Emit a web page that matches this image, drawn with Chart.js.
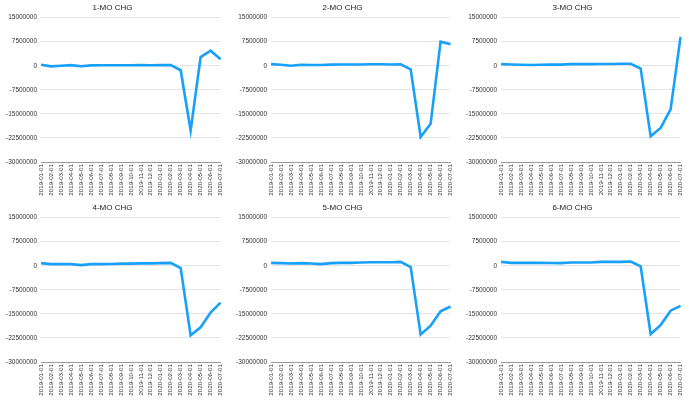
<!DOCTYPE html>
<html>
<head>
<meta charset="utf-8">
<script src="https://cdn.jsdelivr.net/npm/chart.js@4.4.0/dist/chart.umd.min.js"></script>
<style>
  body { margin: 0; background: #fff; width: 690px; height: 400px; position: relative; }
  .cell { position: absolute; width: 230px; height: 200px; }
</style>
</head>
<body>
<div class="cell" style="left:0;top:0"><canvas id="c1"></canvas></div>
<div class="cell" style="left:230px;top:0"><canvas id="c2"></canvas></div>
<div class="cell" style="left:460px;top:0"><canvas id="c3"></canvas></div>
<div class="cell" style="left:0;top:200px"><canvas id="c4"></canvas></div>
<div class="cell" style="left:230px;top:200px"><canvas id="c5"></canvas></div>
<div class="cell" style="left:460px;top:200px"><canvas id="c6"></canvas></div>
<script>
var months = ['2019-01-01', '2019-02-01', '2019-03-01', '2019-04-01', '2019-05-01', '2019-06-01',
    '2019-07-01', '2019-08-01', '2019-09-01', '2019-10-01', '2019-11-01', '2019-12-01',
    '2020-01-01', '2020-02-01', '2020-03-01', '2020-04-01', '2020-05-01', '2020-06-01', '2020-07-01'];

var titles = ['1-MO CHG', '2-MO CHG', '3-MO CHG', '4-MO CHG', '5-MO CHG', '6-MO CHG'];

var chg1 = [300000, -200000, 0, 200000, -150000, 100000, 150000, 150000, 150000, 150000, 200000, 150000,
    200000, 200000, -1400000, -20200000, 2700000, 4700000, 2000000];
var chg2 = [500000, 300000, 0, 300000, 250000, 250000, 350000, 400000, 400000, 400000, 450000, 450000,
    400000, 450000, -1100000, -22200000, -18100000, 7500000, 6700000];
var chg3 = [500000, 400000, 300000, 250000, 300000, 350000, 350000, 500000, 500000, 500000, 550000, 550000,
    600000, 600000, -900000, -22000000, -19400000, -13600000, 9000000];
var chg4 = [800000, 500000, 500000, 500000, 200000, 500000, 500000, 550000, 650000, 650000, 750000, 750000,
    800000, 900000, -700000, -21700000, -19200000, -14600000, -11500000];
var chg5 = [900000, 800000, 700000, 800000, 700000, 500000, 800000, 900000, 900000, 1000000, 1100000, 1100000,
    1100000, 1200000, -400000, -21400000, -18700000, -14200000, -12700000];
var chg6 = [1200000, 900000, 900000, 900000, 900000, 850000, 800000, 1000000, 1000000, 1000000, 1200000, 1200000,
    1200000, 1300000, -200000, -21300000, -18500000, -14000000, -12500000];

var series = [chg1, chg2, chg3, chg4, chg5, chg6];

var fam = "'Liberation Sans', Arial, sans-serif";

for (var i = 0; i < 6; i++) {
    var ctx = document.getElementById('c' + (i + 1)).getContext('2d');
    new Chart(ctx, {
        type: 'line',
        data: {
            labels: months,
            datasets: [{
                label: titles[i],
                data: series[i],
                borderColor: 'rgb(24, 160, 251)',
                borderWidth: 2.6,
                pointRadius: 0,
                tension: 0,
                fill: false
            }]
        },
        options: {
            responsive: true,
            maintainAspectRatio: false,
            animation: false,
            layout: { padding: { left: 2, right: 7, top: 0, bottom: 0 } },
            plugins: {
                legend: { display: false },
                tooltip: { enabled: false },
                title: {
                    display: true,
                    text: titles[i],
                    color: '#222',
                    font: { family: fam, size: 8, weight: 'normal' },
                    padding: { top: 3, bottom: 5 }
                }
            },
            scales: {
                x: {
                    grid: { display: false, drawTicks: false },
                    border: { display: true, color: '#999', width: 1 },
                    afterFit: function (axis) { axis.height = 38; },
                    ticks: {
                        color: '#333',
                        font: { family: fam, size: 6.2 },
                        minRotation: 90,
                        maxRotation: 90,
                        autoSkip: false,
                        padding: 2
                    }
                },
                y: {
                    min: -30000000,
                    max: 15000000,
                    border: { display: false },
                    grid: { color: '#e4e4e4', lineWidth: 1, drawTicks: false },
                    ticks: {
                        stepSize: 7500000,
                        color: '#333',
                        font: { family: fam, size: 6.5 },
                        padding: 4,
                        callback: function (v) { return String(v); }
                    }
                }
            }
        }
    });
}
</script>
</body>
</html>
